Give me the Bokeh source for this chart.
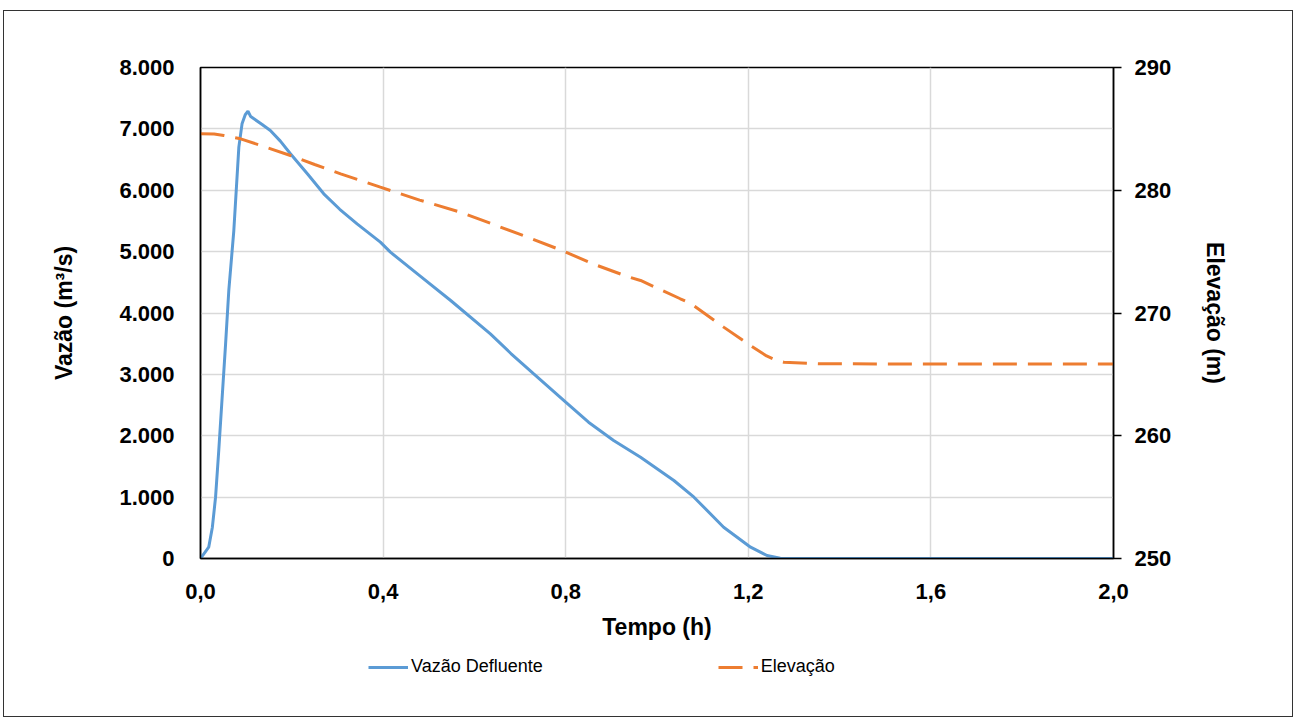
from bokeh.plotting import figure
from bokeh.layouts import column
from bokeh.models import Range1d, LinearAxis, FixedTicker, Legend, LegendItem
from bokeh.embed import file_html
from bokeh.resources import INLINE

# ---- data ----
t_q = [0, 0.018, 0.026, 0.033, 0.040, 0.047, 0.055, 0.062, 0.073, 0.084, 0.091, 0.098,
       0.104, 0.110, 0.117, 0.135, 0.153, 0.175, 0.197, 0.235, 0.270, 0.305, 0.343,
       0.394, 0.416, 0.48, 0.548, 0.635, 0.68, 0.730, 0.800, 0.85, 0.905, 0.964,
       1.037, 1.081, 1.146, 1.205, 1.241, 1.27, 1.30, 1.6, 2.0]
q = [0, 184, 510, 999, 1760, 2574, 3500, 4367, 5344, 6702, 7082, 7230,
     7288, 7200, 7165, 7070, 6973, 6800, 6594, 6260, 5942, 5690, 5453,
     5154, 4991, 4610, 4204, 3661, 3340, 3009, 2547, 2220, 1923, 1651,
     1271, 999, 510, 184, 49, 5, 0, 0, 0]

t_e = [0, 0.03, 0.051, 0.088, 0.14, 0.197, 0.25, 0.307, 0.394, 0.48, 0.570, 0.65,
       0.716, 0.792, 0.86, 0.935, 0.964, 1.051, 1.073, 1.146, 1.205, 1.24, 1.263,
       1.278, 1.358, 1.6, 2.0]
e = [284.6, 284.58, 284.46, 284.19, 283.55, 282.83, 282.1, 281.34, 280.25, 279.2,
     278.21, 277.1, 276.18, 275.09, 274.0, 272.97, 272.65, 271.16, 270.80, 268.85,
     267.35, 266.5, 266.13, 265.99, 265.86, 265.85, 265.85]

x_ticks = [0, 0.4, 0.8, 1.2, 1.6, 2.0]
x_labels = ["0,0", "0,4", "0,8", "1,2", "1,6", "2,0"]
q_ticks = [0, 1000, 2000, 3000, 4000, 5000, 6000, 7000, 8000]
q_labels = ["0", "1.000", "2.000", "3.000", "4.000", "5.000", "6.000", "7.000", "8.000"]
e_ticks = [250, 260, 270, 280, 290]
series_names = ["Vazão Defluente", "Elevação"]

BLUE = "#5B9BD5"
ORANGE = "#ED7D31"
DASH = "24 11"
FONT = "Liberation Sans"

p = figure(width=1288, height=640, output_backend="svg", toolbar_location=None,
           x_range=Range1d(0, 2.0), y_range=Range1d(0, 8000),
           min_border_left=196, min_border_right=179, min_border_top=56,
           min_border_bottom=93)
p.extra_y_ranges = {"elev": Range1d(250, 290)}

p.outline_line_color = "black"
p.outline_line_width = 1.5

p.xgrid.ticker = FixedTicker(ticks=x_ticks)
p.ygrid.ticker = FixedTicker(ticks=q_ticks)
p.xgrid.grid_line_color = "#D9D9D9"
p.ygrid.grid_line_color = "#D9D9D9"
p.xgrid.grid_line_width = 1.5
p.ygrid.grid_line_width = 1.5

def style_axis(ax):
    ax.axis_line_color = "black"
    ax.axis_line_width = 1.5
    ax.major_label_text_font = FONT
    ax.major_label_text_font_style = "bold"
    ax.major_label_text_font_size = "22px"
    ax.major_label_text_color = "black"
    ax.axis_label_text_font = FONT
    ax.axis_label_text_font_style = "bold"
    ax.axis_label_text_font_size = "23px"
    ax.axis_label_text_color = "black"
    ax.minor_tick_line_color = None

xa = p.xaxis[0]
style_axis(xa)
xa.ticker = FixedTicker(ticks=x_ticks)
xa.major_label_overrides = {t: l for t, l in zip(x_ticks, x_labels)}
xa.major_tick_line_color = None
xa.major_label_standoff = 19
xa.axis_label = "Tempo (h)"
xa.axis_label_standoff = 12

ya = p.yaxis[0]
style_axis(ya)
ya.ticker = FixedTicker(ticks=q_ticks)
ya.major_label_overrides = {t: l for t, l in zip(q_ticks, q_labels)}
ya.major_tick_line_color = None
ya.major_label_standoff = 20
ya.axis_label = "Vazão (m³/s)"
ya.axis_label_standoff = 39

ra = LinearAxis(y_range_name="elev")
style_axis(ra)
ra.ticker = FixedTicker(ticks=e_ticks)
ra.major_tick_in = 0
ra.major_tick_out = 8
ra.major_tick_line_color = "black"
ra.major_tick_line_width = 1.5
ra.major_label_standoff = 13
ra.axis_label = "Elevação (m)"
ra.axis_label_standoff = 28
p.add_layout(ra, "right")

p.line(t_q, q, line_color=BLUE, line_width=3)
p.line(t_e, e, line_color=ORANGE, line_width=3, line_dash=DASH, y_range_name="elev")

# legend strip below the chart (its renderers are out of view; only the legend shows)
lf = figure(width=1288, height=65, output_backend="svg", toolbar_location=None,
            x_range=Range1d(10, 11), y_range=Range1d(10, 11),
            x_axis_location=None, y_axis_location=None,
            min_border_left=0, min_border_right=0, min_border_top=0, min_border_bottom=0)
lf.outline_line_color = None
lf.xgrid.visible = False
lf.ygrid.visible = False
k1 = lf.line(t_q, q, line_color=BLUE, line_width=3)
k2 = lf.line(t_e, e, line_color=ORANGE, line_width=3, line_dash=DASH)

legend = Legend(items=[LegendItem(label=series_names[0], renderers=[k1]),
                       LegendItem(label=series_names[1], renderers=[k2])],
                orientation="horizontal", location=(168, 39),
                glyph_width=40, glyph_height=20, label_height=20,
                label_standoff=3, spacing=175, padding=0, margin=0,
                border_line_color=None, background_fill_alpha=0,
                label_text_font=FONT, label_text_font_size="18px",
                label_text_color="black")
lf.add_layout(legend, "center")

layout = column(p, lf, spacing=0)
layout.styles = {"border": "1px solid #333333", "margin-left": "3px", "margin-top": "10px"}

open("out.html", "w").write(file_html(layout, INLINE))
